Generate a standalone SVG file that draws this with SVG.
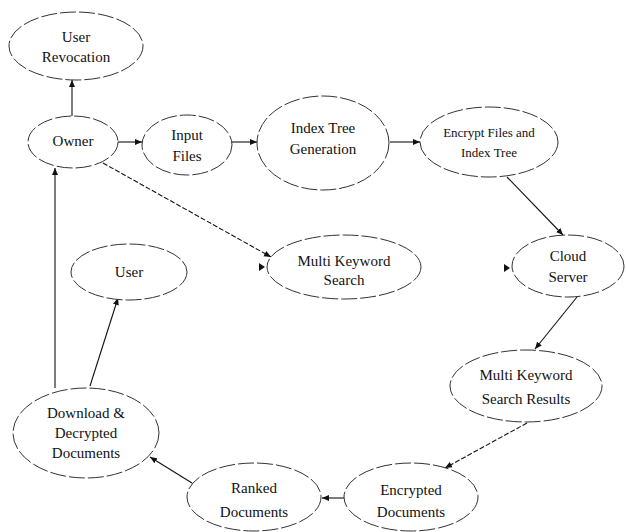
<svg xmlns="http://www.w3.org/2000/svg" width="626" height="532" viewBox="0 0 626 532">
<defs>
<marker id="ah" markerWidth="8" markerHeight="8" refX="7" refY="4" orient="auto" markerUnits="userSpaceOnUse">
<path d="M0,1 L7,4 L0,7 Z" fill="#111"/>
</marker>
<style>
.n ellipse{fill:#fff;stroke:#333;stroke-width:1;stroke-dasharray:16 3}
.n text{font-family:'Liberation Serif','Times New Roman','DejaVu Serif',serif;font-size:15px;fill:#111;text-anchor:middle}
.n text.s{font-size:13px}
.c line{stroke:#111;stroke-width:1.1;marker-end:url(#ah)}
.c line.d{stroke-dasharray:5 2}
</style>
</defs>
<rect width="626" height="532" fill="#fff"/>
<g class="c" id="connectors">
<line x1="72" y1="116" x2="72" y2="80"/>
<line x1="118" y1="142" x2="142" y2="142"/>
<line x1="232" y1="142" x2="257" y2="142"/>
<line x1="390" y1="142" x2="420" y2="142"/>
<line x1="507" y1="177" x2="563" y2="235"/>
<line x1="577" y1="297" x2="535" y2="349"/>
<line class="d" x1="527" y1="423" x2="445" y2="468"/>
<line x1="345" y1="498" x2="322" y2="498"/>
<line x1="192" y1="483" x2="150" y2="457"/>
<line x1="90" y1="386" x2="118" y2="298"/>
<line x1="55" y1="388" x2="55" y2="168"/>
<line class="d" x1="103" y1="163" x2="271" y2="257"/>
<path d="M259,263 L265,267 L259,271 Z" fill="#111"/>
<path d="M504,264 L510,268 L504,272 Z" fill="#111"/>
</g>
<g class="n" id="user-revocation" font-family="Liberation Serif, serif"><ellipse cx="76" cy="46" rx="67" ry="34"/><text x="76" y="42">User</text><text x="76" y="62">Revocation</text></g>
<g class="n" id="owner"><ellipse cx="73" cy="142" rx="45" ry="26"/><text x="73" y="146">Owner</text></g>
<g class="n" id="input-files"><ellipse cx="187" cy="145" rx="45" ry="30"/><text x="187" y="140">Input</text><text x="187" y="161">Files</text></g>
<g class="n" id="index-tree"><ellipse cx="323" cy="143" rx="66" ry="47"/><text x="323" y="133">Index Tree</text><text x="323" y="154">Generation</text></g>
<g class="n" id="encrypt-files"><ellipse cx="489" cy="142" rx="69" ry="35"/><text class="s" x="489" y="137">Encrypt Files and</text><text class="s" x="489" y="157">Index Tree</text></g>
<g class="n" id="cloud-server"><ellipse cx="568" cy="266" rx="56" ry="31"/><text x="568" y="261">Cloud</text><text x="568" y="282">Server</text></g>
<g class="n" id="multi-keyword-search"><ellipse cx="344" cy="267" rx="77" ry="32"/><text x="344" y="266">Multi Keyword</text><text x="344" y="285">Search</text></g>
<g class="n" id="search-results"><ellipse cx="526" cy="386" rx="76" ry="36"/><text x="526" y="380">Multi Keyword</text><text x="526" y="404">Search Results</text></g>
<g class="n" id="encrypted-documents"><ellipse cx="411" cy="497" rx="67" ry="34"/><text x="411" y="495">Encrypted</text><text x="411" y="517">Documents</text></g>
<g class="n" id="ranked-documents"><ellipse cx="254" cy="497" rx="67" ry="34"/><text x="254" y="493">Ranked</text><text x="254" y="517">Documents</text></g>
<g class="n" id="download-decrypted"><ellipse cx="86" cy="433" rx="73" ry="45"/><text x="86" y="418">Download &amp;</text><text x="86" y="438">Decrypted</text><text x="86" y="458">Documents</text></g>
<g class="n" id="user"><ellipse cx="129" cy="272" rx="58" ry="28"/><text x="129" y="277">User</text></g>
</svg>
